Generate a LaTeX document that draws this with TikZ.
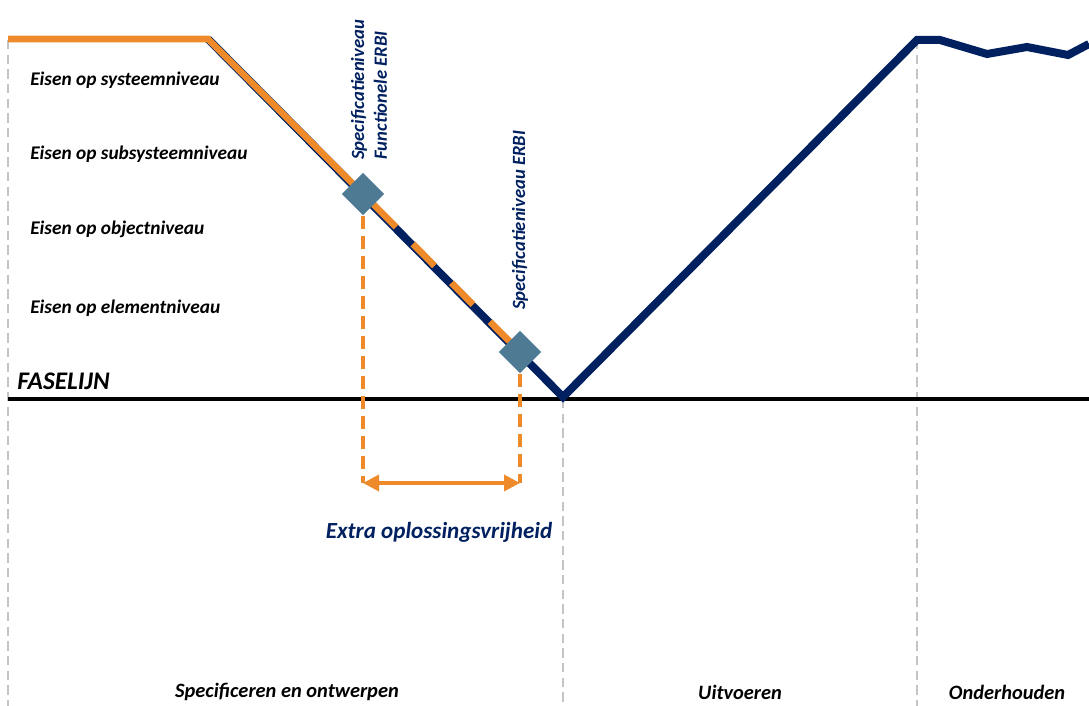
\documentclass[tikz,border=0pt]{standalone}
\usepackage{fontspec}
\setmainfont{Carlito}
\usepackage{tikz}
\usetikzlibrary{shapes.geometric,arrows.meta,positioning}
\definecolor{navy}{HTML}{002060}
\definecolor{vborange}{HTML}{EE8A2A}
\definecolor{steel}{HTML}{4E7A94}
\definecolor{phasegrey}{HTML}{C4C4C4}

\begin{document}
\begin{tikzpicture}[x=0.75pt, y=-0.75pt,
    niveau/.style={anchor=west, inner sep=0pt, font=\fontsize{14.5}{16}\selectfont\bfseries\itshape},
    fase/.style={inner sep=0pt, font=\fontsize{15.3}{18}\selectfont\bfseries\itshape},
    vlabel/.style={rotate=90, anchor=west, inner sep=0pt, align=left, text=navy, font=\fontsize{14}{17}\selectfont\bfseries\itshape},
    spec/.style={diamond, fill=steel, minimum width=32pt, minimum height=32pt, inner sep=0pt},
    grid/.style={phasegrey, line width=1.6pt, dash pattern=on 7pt off 4pt},
    vline/.style={line width=6pt, line join=miter, navy},
    drop/.style={vborange, line width=2.3pt, dash pattern=on 10pt off 5pt}]
    \useasboundingbox (0,0) rectangle (1089,706);

    \coordinate (start) at (8,39);
    \coordinate (knik) at (208,39);
    \coordinate (dal) at (563,397);
    \coordinate (top) at (917,40);

    \draw[grid] (8,40) -- (8,706);
    \draw[grid] (563,399) -- (563,706);
    \draw[grid] (917,40) -- (917,706);
    \draw[line width=2.4pt, black] (8,399) -- (1089,399);

    \draw[vline] (knik) -- (dal) -- (top) -- (940,40) -- (987,54) -- (1027,47) -- (1068,55) -- (1089,44);
    \draw[vborange, line width=5pt, line join=miter] (start) -- (knik) -- (396,227);
    \draw[vborange, line width=5pt, dash pattern=on 23pt off 18pt, dash phase=23pt] (396,227) -- (520,352);

    \node[spec] (d1) at (363,194) {};
    \node[spec] (d2) at (520,352) {};

    \coordinate (p1) at (363,483);
    \coordinate (p2) at (520,483);
    \draw[drop] (d1.south) -- (p1);
    \draw[drop] (d2.south) -- (p2);
    \draw[vborange, line width=2.6pt, {Triangle[length=12pt,width=12pt]}-{Triangle[length=12pt,width=12pt]}] (p1) -- (p2);
    \node[text=navy, font=\fontsize{17.3}{20}\selectfont\bfseries\itshape] (vrij) at (439,532) {Extra oplossingsvrijheid};

    \node[vlabel] (lab1) at (369,160) {Specificatieniveau\\Functionele ERBI};
    \node[vlabel] (lab2) at (520,310) {Specificatieniveau ERBI};

    \node[niveau] (n1) at (30,80) {Eisen op systeemniveau};
    \node[niveau] (n2) at (30,154) {Eisen op subsysteemniveau};
    \node[niveau] (n3) at (30,229) {Eisen op objectniveau};
    \node[niveau] (n4) at (30,308) {Eisen op elementniveau};
    \node[anchor=west, inner sep=0pt, font=\fontsize{19}{21}\selectfont\bfseries\itshape] (faselijn) at (17,381) {FASELIJN};

    \node[fase] (f1) at (287,692) {Specificeren en ontwerpen};
    \node[fase] (f2) at (740,692) {Uitvoeren};
    \node[fase] (f3) at (1007,692) {Onderhouden};
\end{tikzpicture}
\end{document}
